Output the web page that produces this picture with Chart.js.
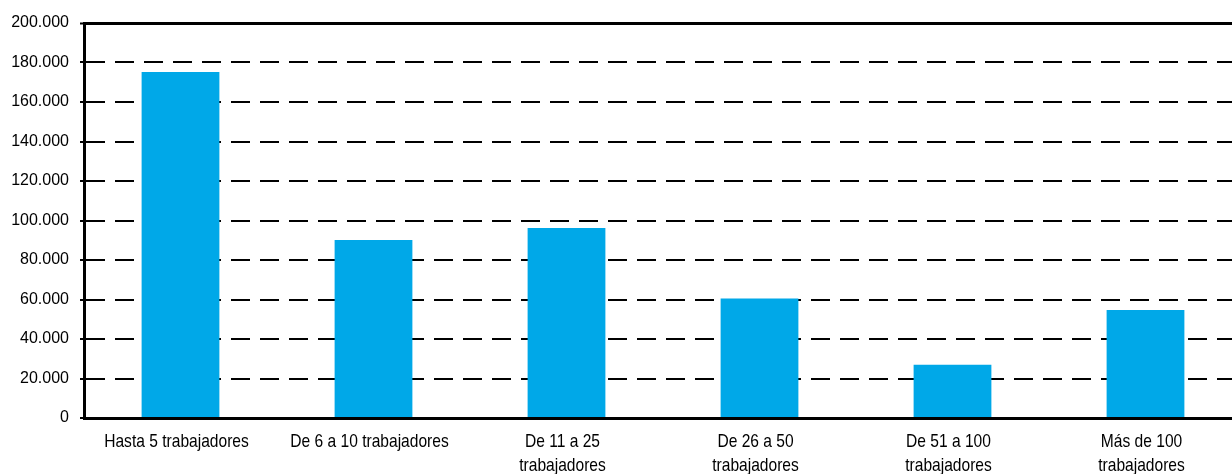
<!DOCTYPE html>
<html>
<head>
<meta charset="utf-8">
<script src="https://cdn.jsdelivr.net/npm/chart.js@4/dist/chart.umd.min.js"></script>
<style>
  html, body { margin: 0; padding: 0; background: #fff; overflow: hidden; }
  #wrap { width: 1242px; height: 474px; position: relative; }
</style>
</head>
<body>
<div id="wrap"><canvas id="c"></canvas></div>
<script>
const categories = [
  "Hasta 5 trabajadores",
  "De 6 a 10 trabajadores",
  ["De 11 a 25", "trabajadores"],
  ["De 26 a 50", "trabajadores"],
  ["De 51 a 100", "trabajadores"],
  ["Más de 100", "trabajadores"]
];
const values = [175200, 90100, 96200, 60500, 26900, 54700];
const yMin = 0, yMax = 200000, yStep = 20000;

const fmt = v => v.toLocaleString('de-DE');

// Draws the x-axis category labels in a condensed (narrow) face,
// taking each label from the chart's own labels and the scale's tick pixels.
const narrowLabels = {
  id: 'narrowLabels',
  afterDraw(chart) {
    const sc = chart.scales.x;
    const ctx = chart.ctx;
    const size = 19, lh = size * 1.3;
    ctx.save();
    ctx.font = size + "px 'Liberation Sans', Arial, sans-serif";
    ctx.fillStyle = '#000';
    ctx.textAlign = 'center';
    ctx.textBaseline = 'middle';
    chart.data.labels.forEach((lab, i) => {
      const lines = Array.isArray(lab) ? lab : [lab];
      const x = sc.getPixelForTick(i) - 4;
      lines.forEach((ln, j) => {
        const y = sc.top + 11 + lh / 2 + j * lh;
        ctx.save();
        ctx.translate(x, y);
        ctx.scale(0.82, 1);
        ctx.fillText(ln, 0, 0);
        ctx.restore();
      });
    });
    ctx.restore();
  }
};

new Chart(document.getElementById('c'), {
  type: 'bar',
  data: {
    labels: categories,
    datasets: [{
      data: values,
      backgroundColor: '#00A8E8',
      borderWidth: 0,
      barPercentage: 0.403,
      categoryPercentage: 1.0
    }]
  },
  plugins: [narrowLabels],
  options: {
    responsive: true,
    maintainAspectRatio: false,
    animation: false,
    devicePixelRatio: 1,
    layout: { padding: { top: 23, right: 0, left: 0, bottom: 0 } },
    plugins: { legend: { display: false }, tooltip: { enabled: false } },
    scales: {
      x: {
        grid: { display: false },
        border: { display: true, color: '#000', width: 3 },
        ticks: { display: false },
        afterFit: s => { s.height = 56; }
      },
      y: {
        min: yMin, max: yMax,
        afterFit: s => { s.width = 84; },
        grid: {
          color: '#000',
          lineWidth: ctx => (ctx.tick && ctx.tick.value === yMax) ? 3 : 2,
          tickLength: 4,
          tickColor: '#000',
          tickWidth: 2,
          tickBorderDash: []
        },
        border: {
          display: true, color: '#000', width: 3,
          dash: ctx => (ctx.tick && ctx.tick.value !== yMax && ctx.tick.value !== yMin) ? [19, 10] : [],
          dashOffset: 0
        },
        ticks: {
          stepSize: yStep,
          color: '#000',
          padding: 11,
          font: { family: "'Liberation Sans', Arial, sans-serif", size: 16 },
          callback: v => fmt(v)
        }
      }
    }
  }
});
</script>
</body>
</html>
